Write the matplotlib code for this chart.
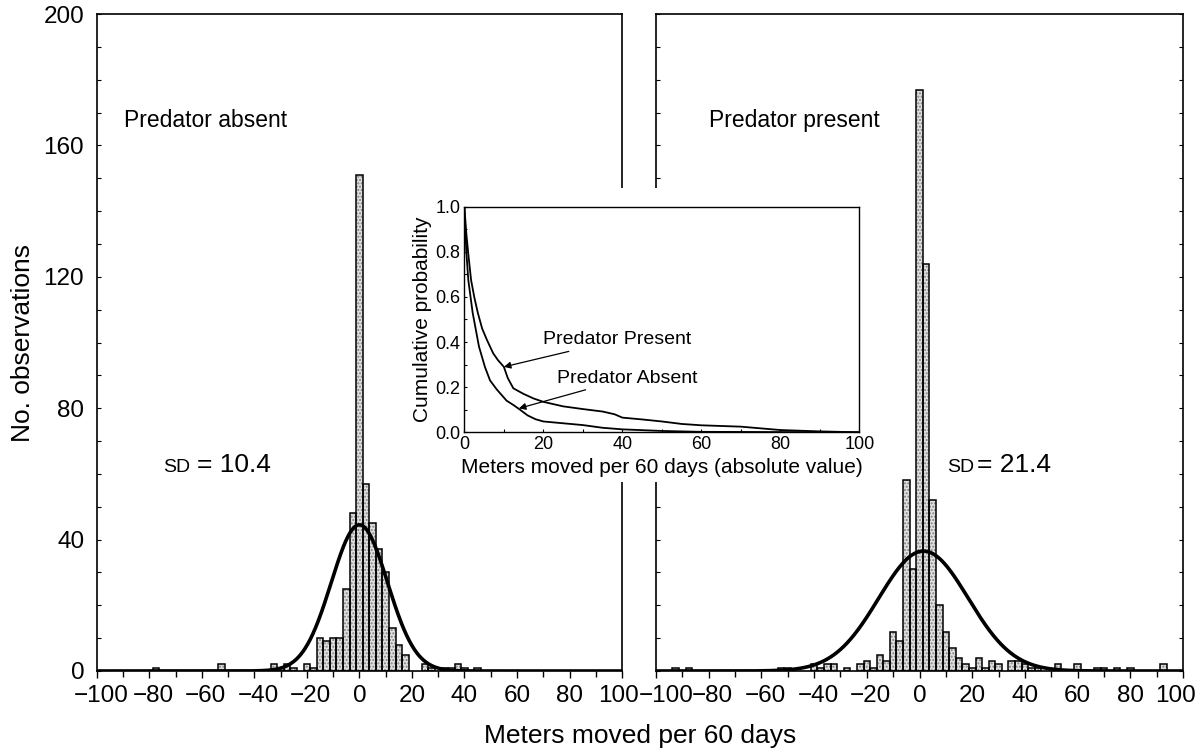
import numpy as np
import matplotlib.pyplot as plt
from matplotlib.patches import Rectangle
from matplotlib.ticker import MultipleLocator
from matplotlib.transforms import ScaledTranslation

plt.rcParams['font.family'] = ['Liberation Sans', 'DejaVu Sans']

BIN = 2.5

# histogram counts (bin centres in m, counts)
absent_centers = [-77.5, -52.5, -32.5, -30, -27.5, -25, -20, -17.5, -15, -12.5, -10, -7.5,
                  -5, -2.5, 0, 2.5, 5, 7.5, 10, 12.5, 15, 17.5, 25, 27.5, 32.5, 35, 37.5, 40, 45]
absent_counts = [1, 2, 2, 1, 2, 1, 2, 1, 10, 9, 10, 10,
                 25, 48, 151, 57, 45, 37, 30, 13, 8, 5, 2, 1, 1, 1, 2, 1, 1]

present_centers = [-92.5, -87.5, -52.5, -50, -40, -37.5, -35, -32.5, -27.5, -22.5, -20, -17.5,
                   -15, -12.5, -10, -7.5, -5, -2.5, 0, 2.5, 5, 7.5, 10, 12.5, 15, 17.5, 20,
                   22.5, 25, 27.5, 30, 35, 37.5, 40, 42.5, 45, 52.5, 60, 67.5, 70, 75, 80, 92.5]
present_counts = [1, 1, 1, 1, 2, 1, 2, 2, 1, 2, 3, 1,
                  5, 3, 12, 9, 58, 31, 177, 124, 52, 20, 12, 7, 4, 2, 1,
                  4, 1, 3, 2, 3, 3, 2, 1, 1, 2, 2, 1, 1, 1, 1, 2]

# fitted normal curves: (mean, sd as drawn, peak height)
absent_fit = (0.0, 10.7, 44.5)
present_fit = (1.5, 17.0, 36.5)

# inset: cumulative probability vs absolute distance moved
present_dist = [0, 0.5, 1, 1.7, 2.5, 3.4, 4.5, 5.7, 7.3, 8.5, 10, 11, 12.4, 15, 17.5, 20,
                25, 30, 35, 38, 40, 45, 50, 55, 60, 70, 80, 90, 100]
present_prob = [1.0, 0.88, 0.79, 0.675, 0.6, 0.53, 0.46, 0.41, 0.35, 0.32, 0.29, 0.24, 0.195,
                0.17, 0.15, 0.135, 0.115, 0.103, 0.092, 0.08, 0.065, 0.057, 0.048, 0.037,
                0.031, 0.025, 0.01, 0.004, 0.0]
absent_dist = [0, 0.5, 1.0, 2.1, 3.7, 5.2, 6.5, 8.2, 10.7, 12.5, 14.1, 16, 18, 20, 25, 30,
               35, 40, 50, 60, 100]
absent_prob = [1.0, 0.8, 0.675, 0.53, 0.38, 0.29, 0.23, 0.19, 0.14, 0.12, 0.1, 0.075, 0.058,
               0.048, 0.04, 0.032, 0.02, 0.013, 0.006, 0.002, 0.0]

fig = plt.figure(figsize=(12.03, 7.53), dpi=100)
ax1 = fig.add_axes([0.0804, 0.1089, 0.4367, 0.8725])
ax2 = fig.add_axes([0.5453, 0.1089, 0.4381, 0.8725])

xs = np.linspace(-100, 100, 801)
panels = [(ax1, absent_centers, absent_counts, absent_fit, 'Predator absent', '10.4', -89.5, -74.8, -62.0),
          (ax2, present_centers, present_counts, present_fit, 'Predator present', '21.4', -80.0, 10.5, 21.9)]

for ax, cen, cnt, fit, title, sd, tx, sdx, valx in panels:
    # stippled fill, then black outlines
    ax.bar(cen, cnt, width=BIN, color='#e0e0e0', edgecolor='#808080', hatch='.....',
           linewidth=0, zorder=2)
    ax.bar(cen, cnt, width=BIN, fill=False, edgecolor='black', linewidth=1.1, zorder=3)
    mu, s, peak = fit
    ax.plot(xs, peak * np.exp(-0.5 * ((xs - mu) / s) ** 2), color='black', lw=2.6, zorder=4)
    ax.set_xlim(-100, 100)
    ax.set_ylim(0, 200)
    ax.xaxis.set_major_locator(MultipleLocator(20))
    ax.xaxis.set_minor_locator(MultipleLocator(10))
    ax.yaxis.set_major_locator(MultipleLocator(40))
    ax.yaxis.set_minor_locator(MultipleLocator(10))
    ax.tick_params(axis='x', which='major', direction='out', length=5, width=1, labelsize=17.5, pad=5)
    ax.tick_params(axis='x', which='minor', direction='out', length=4, width=1)
    ax.tick_params(axis='y', which='both', direction='in', length=3, width=0.8, labelsize=17.5, pad=9)
    for sp in ax.spines.values():
        sp.set_linewidth(1.2)
    ax.text(tx, 167.5, title, fontsize=16.5, va='center', ha='left')
    ax.text(sdx, 60.5, 'SD', fontsize=14, va='baseline', ha='left')
    ax.text(valx, 60.5, '= ' + sd, fontsize=19, va='baseline', ha='left')

ax2.tick_params(axis='y', which='both', labelleft=False, right=True)

# digits roughly centred on the tick with the minus sign hanging left;
# the two labels at the panel gap are pushed apart
for ax, edge_shift in [(ax1, {100: -4}), (ax2, {-100: 10, 100: -8})]:
    locs = ax.xaxis.get_majorticklocs()
    for tick, v in zip(ax.xaxis.get_major_ticks(len(locs)), locs):
        dx = edge_shift.get(int(round(v)), 4 if v < 0 else 0)
        if dx:
            lab = tick.label1
            lab.set_transform(lab.get_transform() + ScaledTranslation(dx / 100, 0, fig.dpi_scale_trans))

fig.text(0.532, 0.022, 'Meters moved per 60 days', fontsize=19, ha='center', va='center')
fig.text(0.019, 0.545, 'No. observations', fontsize=19, ha='center', va='center', rotation=90)

# white area under the inset and its labels
fig.patches.append(Rectangle((0.333, 0.36), 0.403, 0.39, transform=fig.transFigure,
                             facecolor='white', edgecolor='none', zorder=1))

axi = fig.add_axes([0.386, 0.4259, 0.3284, 0.2996], zorder=2)
axi.plot(present_dist, present_prob, color='black', lw=1.3)
axi.plot(absent_dist, absent_prob, color='black', lw=1.3)
axi.set_xlim(0, 100)
axi.set_ylim(0, 1.0)
axi.xaxis.set_major_locator(MultipleLocator(20))
axi.xaxis.set_minor_locator(MultipleLocator(10))
axi.yaxis.set_major_locator(MultipleLocator(0.2))
axi.yaxis.set_minor_locator(MultipleLocator(0.1))
axi.yaxis.set_major_formatter(plt.FormatStrFormatter('%.1f'))
axi.tick_params(which='both', direction='in', length=2.5, width=0.8, labelsize=13, pad=3)
for sp in axi.spines.values():
    sp.set_linewidth(1.0)
axi.set_xlabel('Meters moved per 60 days (absolute value)', fontsize=15, labelpad=3)
axi.set_ylabel('Cumulative probability', fontsize=15, labelpad=2)

arrow = dict(arrowstyle='-|>', color='black', lw=0.9, mutation_scale=10, shrinkA=1, shrinkB=0)
axi.annotate('Predator Present', xy=(10, 0.29), xytext=(20, 0.41), fontsize=14,
             va='center', ha='left', arrowprops=arrow)
axi.annotate('Predator Absent', xy=(13.8, 0.106), xytext=(23.5, 0.24), fontsize=14,
             va='center', ha='left', arrowprops=arrow)

fig.savefig('out.png', dpi=100)
